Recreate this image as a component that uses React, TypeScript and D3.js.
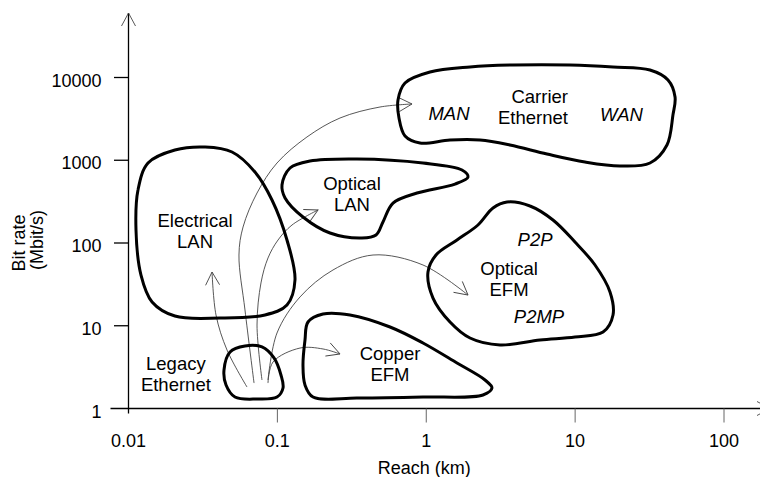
import React, { useEffect, useRef } from "react";
import * as d3 from "d3";

// axis ticks
const xTicks = [0.01, 0.1, 1, 10, 100];
const xTickLabels = ["0.01", "0.1", "1", "10", "100"];
const yTicks = [1, 10, 100, 1000, 10000];
const yTickLabels = ["1", "10", "100", "1000", "10000"];

// regions as outline points: [reach (km), bit rate (Mbit/s)]
const electricalLan = [
  [0.01123, 143.6], [0.01158, 437], [0.01352, 926], [0.0205, 1330], [0.0327, 1445],
  [0.0496, 1258], [0.0707, 721], [0.092, 331], [0.116, 108.7], [0.1313, 35.7],
  [0.116, 17.8], [0.0826, 13.5], [0.0412, 12.4], [0.0205, 13.1], [0.0144, 19.4], [0.01213, 41],
];
const opticalLan = [
  [0.1074, 502], [0.1216, 806], [0.1656, 979], [0.3426, 1035], [0.951, 926],
  [1.738, 763], [1.908, 628], [1.56, 516], [0.867, 402], [0.598, 304],
  [0.512, 179.4], [0.46, 125], [0.37, 114.9], [0.2257, 132], [0.1486, 206], [0.1126, 350],
];
const carrierEthernet = [
  [0.646, 5346], [0.72, 8590], [1.06, 11650], [1.968, 13400], [3.825, 14160],
  [9.24, 14160], [17.97, 13400], [31.84, 12320], [42.06, 9330], [46.9, 5810],
  [45.4, 3523], [41.4, 1528], [31.84, 926], [20.0, 852], [11.65, 952],
  [6.47, 1190], [3.65, 1528], [2.297, 1757], [1.444, 1757], [0.908, 1616],
  [0.72, 1963], [0.656, 3241],
];
const opticalEfm = [
  [3.487, 313], [4.977, 280], [7.1, 189.7], [9.98, 102.8], [13.6, 54.2],
  [17.15, 25.6], [17.97, 13.5], [15.4, 8.4], [9.98, 7.31], [5.81, 6.73],
  [3.13, 5.85], [1.968, 7.11], [1.444, 11.1], [1.11, 21.6], [1.027, 44.6],
  [1.163, 71.6], [1.609, 108.7], [2.226, 165], [2.808, 264.8],
];
const copperEfm = [
  [0.1533, 6.73], [0.1606, 11.1], [0.2026, 13.87], [0.3074, 13.5], [0.571, 9.66],
  [0.951, 6.19], [1.609, 3.546], [2.481, 2.21], [2.764, 1.77], [2.405, 1.456],
  [0.951, 1.377], [0.3426, 1.339], [0.1735, 1.377], [0.1533, 1.923], [0.1486, 3.356],
];
const legacyEthernet = [
  [0.0438, 2.92], [0.0481, 4.82], [0.0606, 5.69], [0.0788, 5.54], [0.0949, 4.08],
  [0.1057, 2.54], [0.1091, 1.77], [0.0994, 1.377], [0.073, 1.302], [0.0519, 1.377], [0.0452, 1.923],
];

// migration arrows out of legacy ethernet
const toElectricalLan = [[0.0625, 1.818], [0.0459, 5.09], [0.0387, 13.5], [0.0364, 44.6]];
const toCarrier = [
  [0.0697, 2.03], [0.0606, 15.5], [0.0552, 71.6], [0.0588, 156], [0.073, 402],
  [0.0994, 926], [0.158, 1910], [0.2635, 3241], [0.489, 4400], [0.8025, 4784],
];
const toOpticalLan = [
  [0.0788, 2.21], [0.073, 10.2], [0.0776, 32.9], [0.0865, 65.9], [0.101, 108.7],
  [0.1254, 165], [0.1875, 250.6],
];
const toOpticalEfm = [
  [0.0865, 2.21], [0.0994, 8.17], [0.142, 22.3], [0.2364, 47.2], [0.439, 71.6],
  [0.951, 54.2], [1.908, 23.5],
];
const toCopperEfm = [[0.0865, 2.03], [0.0935, 3.65], [0.142, 5.38], [0.2026, 5.24], [0.2635, 4.56]];

const regions = [electricalLan, opticalLan, carrierEthernet, opticalEfm, copperEfm, legacyEthernet];
const arrows = [toElectricalLan, toCarrier, toOpticalLan, toOpticalEfm, toCopperEfm];

const labels = [
  { at: [0.028, 156], lines: ["Electrical", "LAN"], anchor: "middle", italic: false },
  { at: [0.317, 437], lines: ["Optical", "LAN"], anchor: "middle", italic: false },
  { at: [8.95, 4920], lines: ["Carrier", "Ethernet"], anchor: "end", italic: false },
  { at: [1.422, 3065], lines: ["MAN"], anchor: "middle", italic: true },
  { at: [20.5, 2980], lines: ["WAN"], anchor: "middle", italic: true },
  { at: [5.38, 92], lines: ["P2P"], anchor: "middle", italic: true },
  { at: [3.6, 41], lines: ["Optical", "EFM"], anchor: "middle", italic: false },
  { at: [5.72, 10.8], lines: ["P2MP"], anchor: "middle", italic: true },
  { at: [0.571, 3.855], lines: ["Copper", "EFM"], anchor: "middle", italic: false },
  { at: [0.0208, 2.92], lines: ["Legacy", "Ethernet"], anchor: "middle", italic: false },
];

const font = "'Liberation Sans', Arial, Helvetica, sans-serif";

export default function App() {
  const ref = useRef<SVGSVGElement>(null);

  useEffect(() => {
    const svg = d3.select(ref.current);
    svg.selectAll("*").remove();

    const x = d3.scaleLog().domain([0.01, 100]).range([128.5, 724]);
    const y = d3.scaleLog().domain([1, 10000]).range([408.5, 77.5]);
    const x0 = x(0.01);
    const y0 = y(1);

    const defs = svg.append("defs");
    defs.append("marker")
      .attr("id", "head")
      .attr("viewBox", "-15 -8 16 16")
      .attr("refX", 0).attr("refY", 0)
      .attr("markerWidth", 16).attr("markerHeight", 16)
      .attr("markerUnits", "userSpaceOnUse")
      .attr("orient", "auto")
      .append("path")
      .attr("d", "M-13,-7L0,0L-13,7")
      .attr("fill", "none").attr("stroke", "#444").attr("stroke-width", 0.9);

    // axes
    const axes = svg.append("g").attr("stroke", "#000").attr("stroke-width", 1.3);
    axes.append("line")
      .attr("x1", x0 - 18).attr("x2", 770).attr("y1", y0).attr("y2", y0)
      .attr("marker-end", "url(#head)");
    axes.append("line")
      .attr("x1", x0).attr("x2", x0).attr("y1", y0 + 5).attr("y2", 13)
      .attr("marker-end", "url(#head)");

    axes.selectAll(".ytick")
      .data(yTicks.slice(1))
      .enter()
      .append("line")
      .attr("x1", x0 - 14.5).attr("x2", x0)
      .attr("y1", d => y(d)).attr("y2", d => y(d));

    svg.selectAll(".xtick")
      .data(xTicks.slice(1))
      .enter()
      .append("line")
      .attr("x1", d => x(d)).attr("x2", d => x(d))
      .attr("y1", y0).attr("y2", y0 + 14)
      .attr("stroke", "#666").attr("stroke-width", 1);

    svg.selectAll(".xlabel")
      .data(xTicks)
      .enter()
      .append("text")
      .attr("x", d => x(d)).attr("y", y0 + 38.5)
      .attr("text-anchor", "middle")
      .style("font", `18px ${font}`)
      .text((d, i) => xTickLabels[i]);

    svg.selectAll(".ylabel")
      .data(yTicks)
      .enter()
      .append("text")
      .attr("x", x0 - 27).attr("y", d => y(d) + 9)
      .attr("text-anchor", "end")
      .style("font", `18px ${font}`)
      .text((d, i) => yTickLabels[i]);

    svg.append("text")
      .attr("x", x(1) - 2).attr("y", y0 + 65)
      .attr("text-anchor", "middle")
      .style("font", `18px ${font}`)
      .text("Reach (km)");

    svg.append("text")
      .attr("transform", "translate(25,243) rotate(-90)")
      .attr("text-anchor", "middle")
      .style("font", `18px ${font}`)
      .text("Bit rate");
    svg.append("text")
      .attr("transform", "translate(43,240) rotate(-90)")
      .attr("text-anchor", "middle")
      .style("font", `18px ${font}`)
      .text("(Mbit/s)");

    // arrows
    const arrowLine = d3.line<number[]>()
      .x(d => x(d[0])).y(d => y(d[1]))
      .curve(d3.curveCatmullRom.alpha(0.5));

    svg.selectAll(".arrow")
      .data(arrows)
      .enter()
      .append("path")
      .attr("d", d => arrowLine(d))
      .attr("fill", "none")
      .attr("stroke", "#444")
      .attr("stroke-width", 0.9)
      .attr("marker-end", "url(#head)");

    // regions
    const blob = d3.line<number[]>()
      .x(d => x(d[0])).y(d => y(d[1]))
      .curve(d3.curveCatmullRomClosed.alpha(0.5));

    svg.selectAll(".region")
      .data(regions)
      .enter()
      .append("path")
      .attr("d", d => blob(d))
      .attr("fill", "none")
      .attr("stroke", "#000")
      .attr("stroke-width", 3)
      .attr("stroke-linejoin", "round");

    labels.forEach(l => {
      const t = svg.append("text")
        .attr("text-anchor", l.anchor)
        .style("font", `${l.italic ? "italic " : ""}18.5px ${font}`);
      l.lines.forEach((line, i) => {
        t.append("tspan")
          .attr("x", x(l.at[0]))
          .attr("y", y(l.at[1]) + i * 21)
          .text(line);
      });
    });
  }, []);

  return (
    <svg
      ref={ref}
      width={760}
      height={477}
      style={{ position: "absolute", left: 0, top: 0, display: "block", background: "#fff" }}
    />
  );
}
